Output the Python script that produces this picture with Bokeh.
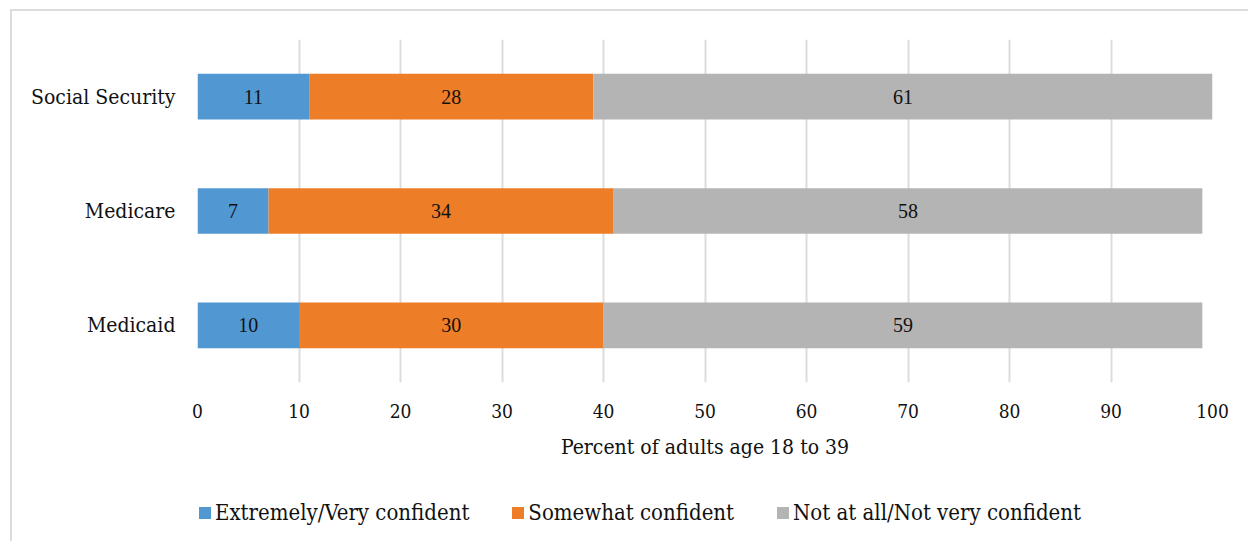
from bokeh.plotting import figure
from bokeh.layouts import column
from bokeh.models import (ColumnDataSource, FactorRange, Range1d, FixedTicker,
                          Legend, LegendItem, LabelSet)
from bokeh.embed import file_html
from bokeh.resources import INLINE

# Confidence that each program will be there for them (adults age 18-39)
programs = ["Social Security", "Medicare", "Medicaid"]
extremely_very = [11, 7, 10]
somewhat = [28, 34, 30]
not_at_all = [61, 58, 59]

series_keys = ["extremely_very", "somewhat", "not_at_all"]
series_names = ["Extremely/Very confident", "Somewhat confident",
                "Not at all/Not very confident"]
series_colors = ["#5198d2", "#ee7d27", "#b4b4b4"]
x_ticks = [0, 10, 20, 30, 40, 50, 60, 70, 80, 90, 100]

FONT = "'DejaVu Serif Condensed', 'DejaVu Serif', serif"
TEXT = "#111111"
W = 1236
BORDERS = dict(min_border_left=185, min_border_right=36)

source = ColumnDataSource(dict(program=programs, extremely_very=extremely_very,
                               somewhat=somewhat, not_at_all=not_at_all))

p = figure(width=W, height=470,
           y_range=FactorRange(factors=list(reversed(programs))),
           x_range=Range1d(0, 100),
           output_backend="svg", toolbar_location=None,
           min_border_top=28, min_border_bottom=99, **BORDERS)

renderers = p.hbar_stack(series_keys, y="program", height=0.4,
                         color=series_colors, line_color=None, source=source)

# value labels centred in each segment
mids, texts, ys = [], [], []
for i, prog in enumerate(programs):
    left = 0
    for vals in (extremely_very, somewhat, not_at_all):
        v = vals[i]
        mids.append(left + v / 2)
        texts.append(str(v))
        ys.append(prog)
        left += v
label_src = ColumnDataSource(dict(x=mids, y=ys, text=texts))
p.add_layout(LabelSet(x="x", y="y", text="text", source=label_src,
                      text_align="center", text_baseline="middle",
                      text_font=FONT, text_font_size="20px", text_color=TEXT))

p.outline_line_color = None
p.ygrid.grid_line_color = None
p.xgrid.grid_line_color = "#dcdcdc"
p.xgrid.grid_line_width = 2
p.xgrid.ticker = FixedTicker(ticks=x_ticks)

xa = p.xaxis[0]
xa.ticker = FixedTicker(ticks=x_ticks)
xa.axis_label = "Percent of adults age 18 to 39"
ya = p.yaxis[0]
for ax in (xa, ya):
    ax.axis_line_color = None
    ax.major_tick_line_color = None
    ax.minor_tick_line_color = None
    ax.major_label_text_font = FONT
    ax.major_label_text_color = TEXT
xa.major_label_text_font_size = "19px"
ya.major_label_text_font_size = "21px"
xa.major_label_standoff = 15
ya.major_label_standoff = 16
xa.axis_label_text_font = FONT
xa.axis_label_text_font_size = "21px"
xa.axis_label_text_font_style = "normal"
xa.axis_label_text_color = TEXT
xa.axis_label_standoff = 14

# legend strip underneath the chart
lg = figure(width=W, height=60, x_range=(0, 1), y_range=(0, 1),
            x_axis_type=None, y_axis_type=None,
            output_backend="svg", toolbar_location=None,
            min_border_top=0, min_border_bottom=0, **BORDERS)
lg.outline_line_color = None
lg.grid.grid_line_color = None
offscreen = ColumnDataSource(dict(y=[-5], left=[0], right=[1]))
swatches = [lg.hbar(y="y", left="left", right="right", height=0.5,
                    color=c, line_color=None, source=offscreen)
            for c in series_colors]
legend = Legend(items=[LegendItem(label=n, renderers=[r])
                       for n, r in zip(series_names, swatches)],
                orientation="horizontal", location=(0, 16),
                label_text_font=FONT, label_text_font_size="22px",
                label_text_color=TEXT, glyph_width=15, glyph_height=15,
                label_standoff=3, spacing=41, padding=0, margin=0,
                border_line_color=None, background_fill_alpha=0)
lg.add_layout(legend, "center")

page = column(p, lg, spacing=0)
page.margin = (9, 0, 0, 10)
page.styles = {"border-top": "2px solid #dcdcdc", "border-left": "2px solid #dcdcdc"}

open("out.html", "w").write(file_html(page, INLINE))
